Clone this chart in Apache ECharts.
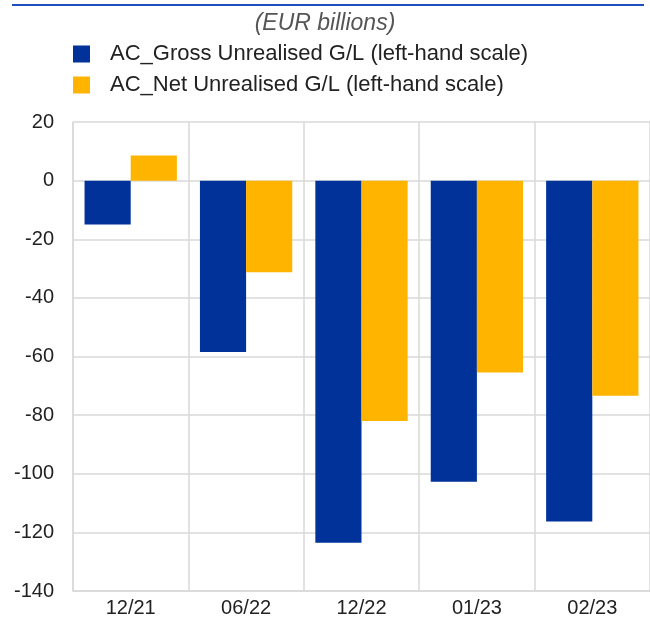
<!DOCTYPE html>
<html>
<head>
<meta charset="utf-8">
<script src="https://cdn.jsdelivr.net/npm/echarts@6/dist/echarts.min.js"></script>
<style>
  html, body { margin: 0; padding: 0; background: #fff; }
  #chart { width: 650px; height: 626px; }
</style>
</head>
<body>
<div id="chart"></div>
<script>
// data
var categories = ["12/21", "06/22", "12/22", "01/23", "02/23"];
var grossValues = [-15, -58.5, -123.5, -102.7, -116.3];
var netValues = [8.6, -31.3, -82, -65.5, -73.4];
var seriesNames = [
  "AC_Gross Unrealised G/L (left-hand scale)",
  "AC_Net Unrealised G/L (left-hand scale)"
];

var myChart = echarts.init(document.getElementById("chart"));
var font = "Liberation Sans, Arial, sans-serif";

var option = {
  animation: false,
  textStyle: { fontFamily: font },
  graphic: [
    {
      type: "line",
      shape: { x1: 12, y1: 5, x2: 644, y2: 5 },
      style: { stroke: "#1f4fbf", lineWidth: 2 }
    }
  ],
  title: {
    text: "(EUR billions)",
    left: "center",
    top: 7,
    textStyle: {
      fontFamily: font,
      fontStyle: "italic",
      fontWeight: "normal",
      fontSize: 23,
      color: "#555"
    }
  },
  legend: {
    orient: "vertical",
    left: 68,
    top: 38,
    itemWidth: 17,
    itemHeight: 17,
    itemGap: 9,
    icon: "rect",
    textStyle: { fontFamily: font, fontSize: 22, color: "#222", padding: [0, 0, 0, 15] },
    data: seriesNames
  },
  grid: {
    left: 73,
    right: -4,
    top: 122,
    bottom: 35,
    containLabel: false
  },
  xAxis: {
    type: "category",
    data: categories,
    position: "bottom",
    axisLine: { onZero: false, lineStyle: { color: "#d9d9d9", width: 1.5 } },
    axisTick: { show: false },
    axisLabel: { fontFamily: font, fontSize: 20, color: "#222", margin: 7 },
    splitLine: { show: true, lineStyle: { color: "#d9d9d9", width: 1.5 } }
  },
  yAxis: {
    type: "value",
    min: -140,
    max: 20,
    interval: 20,
    axisLine: { show: true, lineStyle: { color: "#d9d9d9", width: 1.5 } },
    axisTick: { show: false },
    axisLabel: { fontFamily: font, fontSize: 20, color: "#222", margin: 19 },
    splitLine: { show: true, lineStyle: { color: "#d9d9d9", width: 1.5 } }
  },
  series: [
    {
      name: seriesNames[0],
      type: "bar",
      data: grossValues,
      barGap: "0%",
      barCategoryGap: "20%",
      itemStyle: { color: "#003299" }
    },
    {
      name: seriesNames[1],
      type: "bar",
      data: netValues,
      barGap: "0%",
      barCategoryGap: "20%",
      itemStyle: { color: "#ffb400" }
    }
  ]
};

myChart.setOption(option);
</script>
</body>
</html>
